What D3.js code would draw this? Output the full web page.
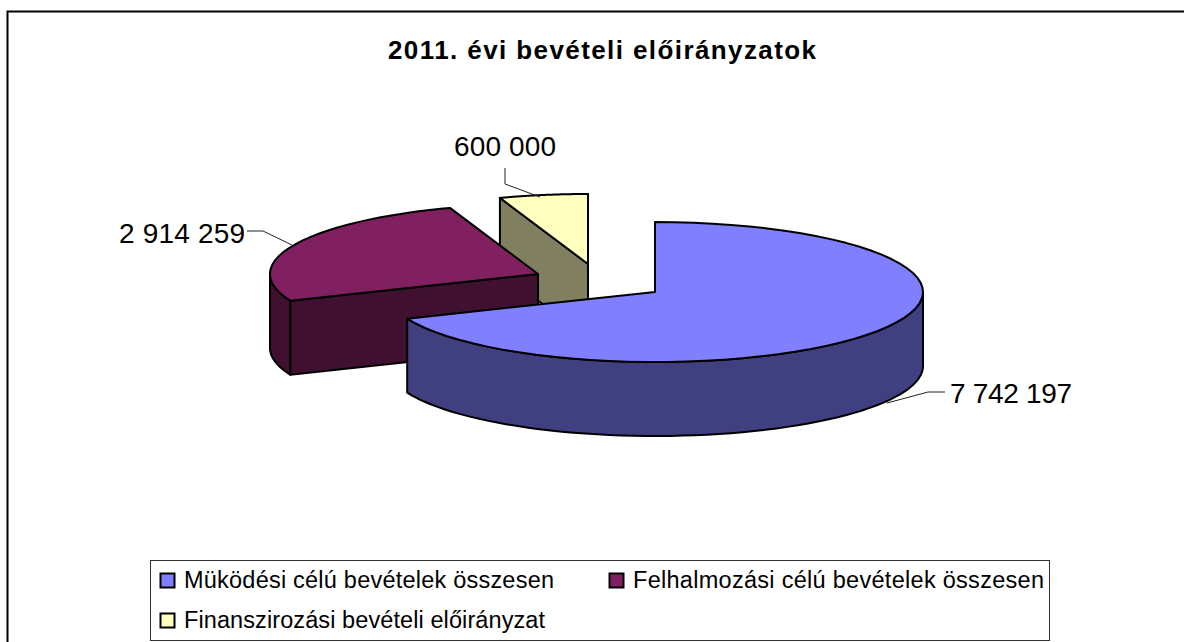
<!DOCTYPE html>
<html><head><meta charset="utf-8">
<script src="https://cdn.jsdelivr.net/npm/d3@7/dist/d3.min.js"></script>
<style>html,body{margin:0;padding:0;background:#fff}svg{display:block}text{font-family:"Liberation Sans",Arial,sans-serif;fill:#000}</style>
</head><body><svg id="c" width="1184" height="642"></svg>
<script>
const title = "2011. évi bevételi előirányzatok";
const categories = ["Müködési célú bevételek összesen","Felhalmozási célú bevételek összesen","Finanszirozási bevételi előirányzat"];
const values = [7742197,2914259,600000];
const valueLabels = ["7 742 197","2 914 259","600 000"];
const topColors = ["#8080FF","#802060","#FFFFC0"];
const sideColors = ["#404080","#401030","#808060"];
const centers = [[655,292],[538,274],[588,264]];
const rx = 268, ry = 70, depth = 74;

const svg = d3.select("#c");
svg.append("path").attr("d","M7.5,1000V11.5H1184").attr("fill","none").attr("stroke","#000").attr("stroke-width",2);

svg.append("text").attr("x",388).attr("y",59).attr("font-size",26).attr("font-weight","bold")
  .attr("textLength",428).attr("lengthAdjust","spacing").text(title);

const arcs = d3.pie().sort(null).value(d=>d)(values);
const line = d3.line();
const pt = (c,a,dz=0)=>[c[0]+rx*Math.sin(a), c[1]-ry*Math.cos(a)+dz];
const samples = (c,a0,a1,dz=0)=>d3.range(0,61).map(i=>pt(c,a0+(a1-a0)*i/60,dz));
const mark = (pts,fill)=>g.append("path").attr("d",line(pts)+"Z").attr("fill",fill)
  .attr("stroke","#000").attr("stroke-width",2).attr("stroke-linejoin","round");
const g = svg.append("g");

[2,1,0].forEach(i=>{
  const c = centers[i], a0 = arcs[i].startAngle, a1 = arcs[i].endAngle;
  const low = [c[0],c[1]+depth];
  if (i===2) mark([[c[0],c[1]],pt(c,a0),pt(c,a0,depth),low],sideColors[i]);
  if (i===1) mark([[c[0],c[1]],pt(c,a0),pt(c,a0,depth),low],sideColors[i]);
  const wallStart = Math.max(a0,Math.PI/2), wallEnd = Math.min(a1,Math.PI*1.5);
  if (wallEnd>wallStart){
    mark(samples(c,wallStart,wallEnd).concat(samples(c,wallEnd,wallStart,depth)),sideColors[i]);
  }
  if (i===2) mark([[c[0],c[1]],pt(c,a1),pt(c,a1,depth),low],sideColors[i]);
  mark([[c[0],c[1]]].concat(samples(c,a0,a1)),topColors[i]);
});

const leaders = [[[945,392],[928,392],[887,403]],[[247,231],[263,231],[292,245]],[[505,168],[505,184],[540,197]]];
const labelPos = [[950,403],[119,243],[454,156]];
const labelWidths = [122,126,102];
leaders.forEach(l=>svg.append("path").attr("d",line(l)).attr("fill","none").attr("stroke","#222").attr("stroke-width",1));
valueLabels.forEach((t,i)=>svg.append("text").attr("x",labelPos[i][0]).attr("y",labelPos[i][1]).attr("font-size",28)
  .attr("textLength",labelWidths[i]).attr("lengthAdjust","spacing").text(t));

svg.append("rect").attr("x",150.5).attr("y",560.5).attr("width",899).attr("height",80).attr("fill","#fff").attr("stroke","#333").attr("stroke-width",1);
const legendPos = [[160,573,370],[609,573,411],[160,613,361]];
categories.forEach((t,i)=>{
  const p = legendPos[i];
  svg.append("rect").attr("x",p[0]+.5).attr("y",p[1]+.5).attr("width",14).attr("height",14)
    .attr("fill",topColors[i]).attr("stroke","#000").attr("stroke-width",2);
  svg.append("text").attr("x",p[0]+24).attr("y",p[1]+15).attr("font-size",23.5)
    .attr("textLength",p[2]).attr("lengthAdjust","spacing").text(t);
});
</script></body></html>
